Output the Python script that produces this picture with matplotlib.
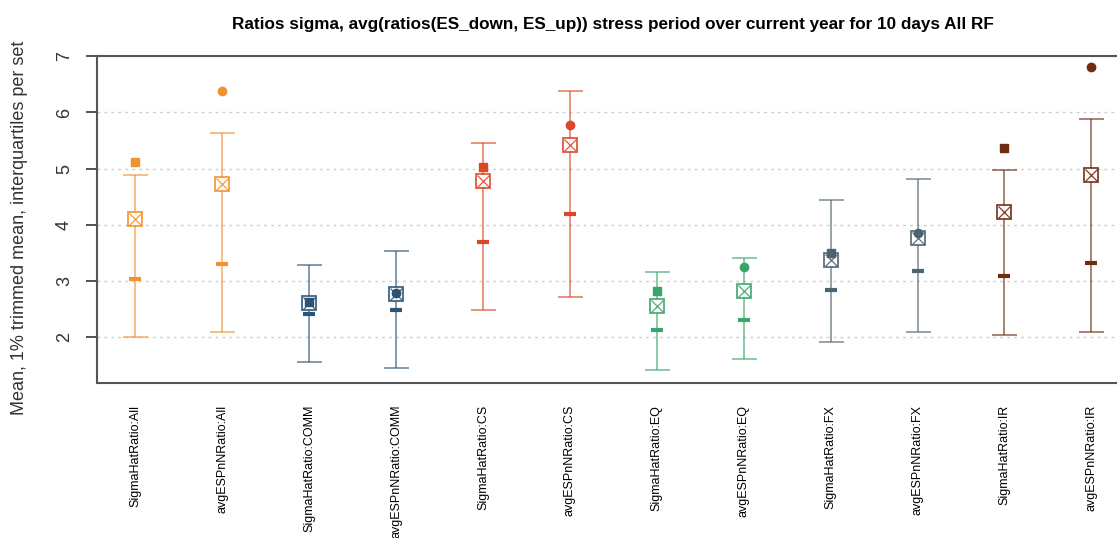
import matplotlib
matplotlib.use('Agg')
import matplotlib.pyplot as plt

plt.rcParams['font.family'] = ['Liberation Sans', 'DejaVu Sans']

# Data
labels = ['SigmaHatRatio:All', 'avgESPnNRatio:All',
          'SigmaHatRatio:COMM', 'avgESPnNRatio:COMM',
          'SigmaHatRatio:CS', 'avgESPnNRatio:CS',
          'SigmaHatRatio:EQ', 'avgESPnNRatio:EQ',
          'SigmaHatRatio:FX', 'avgESPnNRatio:FX',
          'SigmaHatRatio:IR', 'avgESPnNRatio:IR']
upper = [4.88, 5.64, 3.29, 3.54, 5.46, 6.38, 3.16, 3.41, 4.44, 4.82, 4.98, 5.89]
lower = [2.00, 2.08, 1.55, 1.45, 2.48, 2.71, 1.41, 1.60, 1.91, 2.09, 2.04, 2.09]
box_mean = [4.11, 4.73, 2.60, 2.76, 4.78, 5.42, 2.55, 2.82, 3.38, 3.76, 4.22, 4.89]
trimmed = [3.04, 3.30, 2.41, 2.48, 3.69, 4.19, 2.12, 2.31, 2.83, 3.17, 3.08, 3.31]
point = [5.11, 6.38, 2.63, 2.79, 5.02, 5.78, 2.81, 3.25, 3.50, 3.86, 5.36, 6.81]
colors = ['#EF922F', '#EF922F', '#2C5475', '#2C5475', '#DB4727', '#DB4727',
          '#3AA56A', '#3AA56A', '#4C6470', '#4C6470', '#6E2C12', '#6E2C12']
y_ticks = [2, 3, 4, 5, 6, 7]

fig = plt.figure(figsize=(11.17, 5.38), dpi=100)
ax = fig.add_axes([0.0866, 0.2887, 0.925, 0.6065])

for i, lab in enumerate(labels):
    x = i + 1
    c = colors[i]
    half = (upper[i] - lower[i]) / 2
    ax.errorbar(x, lower[i] + half, yerr=[[half], [half]],
                fmt='none', ecolor=c, alpha=0.75, elinewidth=1.1, capsize=9, capthick=1.1, zorder=3)
    ax.plot(x, trimmed[i], marker='_', ms=8, mew=3, color=c, zorder=4)
    ax.plot(x, box_mean[i], marker='s', ms=10, mfc='white', mec=c, mew=1.3, alpha=0.9, zorder=5)
    ax.plot(x, box_mean[i], marker='x', ms=9, mec=c, mew=0.9, alpha=0.9, zorder=6)
    mk = 's' if i % 2 == 0 else 'o'
    ax.plot(x, point[i], marker=mk, ms=6, color=c, zorder=7)

ax.set_xlim(0.556, 12.444)
ax.set_ylim(1.185, 7.0)
ax.set_yticks(y_ticks)
ax.set_yticklabels([str(v) for v in y_ticks], rotation=90, va='center', fontsize=13, color='#333333')
ax.set_xticks(range(1, len(labels) + 1))
ax.set_xticklabels(labels, rotation=90, va='top', ha='center', fontsize=9)
ax.tick_params(axis='x', length=0, pad=16)
ax.tick_params(axis='y', length=8, width=1.3, color='#444444', pad=9)

for y in y_ticks:
    ax.axhline(y, color='#cccccc', lw=1, ls=(0, (2, 3)), zorder=1)

for s in ['left', 'top', 'bottom']:
    ax.spines[s].set_color('#555555')
    ax.spines[s].set_linewidth(1.5)
ax.spines['right'].set_visible(False)

ax.set_title('Ratios sigma, avg(ratios(ES_down, ES_up)) stress period over current year for 10 days All RF',
             fontsize=12.3, fontweight='bold', pad=20)
fig.text(20 / 1117, 1 - 228 / 538, 'Mean, 1% trimmed mean, interquartiles per set',
         rotation=90, ha='center', va='center', fontsize=13, color='#333333')

fig.savefig('out.png', dpi=100)
